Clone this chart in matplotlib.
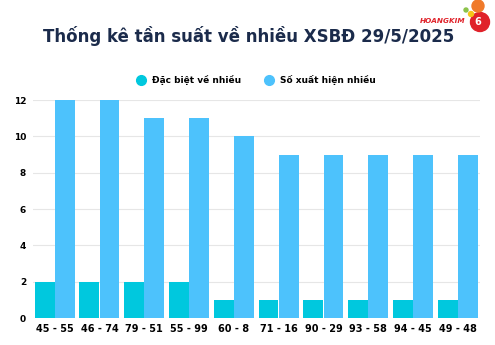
import matplotlib
matplotlib.use("Agg")
import matplotlib.pyplot as plt
from matplotlib.lines import Line2D
from matplotlib.patches import Ellipse

categories = ["45 - 55", "46 - 74", "79 - 51", "55 - 99", "60 - 8",
              "71 - 16", "90 - 29", "93 - 58", "94 - 45", "49 - 48"]
special_counts = [2, 2, 2, 2, 1, 1, 1, 1, 1, 1]
appear_counts = [12, 12, 11, 11, 10, 9, 9, 9, 9, 9]
yticks = [0, 2, 4, 6, 8, 10, 12]

title = "Thống kê tần suất về nhiều XSBĐ 29/5/2025"
label_special = "Đặc biệt về nhiều"
label_appear = "Số xuất hiện nhiều"

c_special = "#00C8DE"
c_appear = "#4DC2FC"
c_title = "#1B2B4B"

plt.rcParams["font.family"] = ["DejaVu Sans"]

W, H = 495, 345
fig = plt.figure(figsize=(W / 100, H / 100), dpi=100)
fig.patch.set_facecolor("white")
ax = fig.add_axes([0.067, 0.078, 0.903, 0.632])

x = list(range(len(categories)))
w = 0.445
ax.bar([i - 0.225 for i in x], special_counts, width=w, color=c_special, zorder=3)
ax.bar([i + 0.225 for i in x], appear_counts, width=w, color=c_appear, zorder=3)

ax.set_xlim(-0.48, 9.5)
ax.set_ylim(0, 12)
ax.set_yticks(yticks)
ax.set_yticklabels([str(v) for v in yticks], fontsize=6.5, fontweight="bold")
ax.set_xticks(x)
ax.set_xticklabels(categories, fontsize=7, fontweight="bold")
ax.tick_params(axis="y", length=0, pad=5)
ax.tick_params(axis="x", length=0, pad=4)
ax.grid(axis="y", color="#E6E6E6", linewidth=0.8, zorder=0)
for s in ax.spines.values():
    s.set_visible(False)

fig.text(0.502, 1 - 36 / H, title, ha="center", va="center", fontsize=12,
         fontweight="bold", color=c_title)

handles = [Line2D([0], [0], marker="o", linestyle="", markersize=7,
                  markerfacecolor=c_special, markeredgecolor=c_special),
           Line2D([0], [0], marker="o", linestyle="", markersize=7,
                  markerfacecolor=c_appear, markeredgecolor=c_appear)]
leg = fig.legend(handles, [label_special, label_appear], loc="center",
                 bbox_to_anchor=(0.513, 1 - 80 / H), ncol=2, frameon=False,
                 prop={"size": 6.5, "weight": "bold"}, handletextpad=0.3,
                 columnspacing=2.0)


def dot(cx, cy, r, color):
    """Round dot given in pixel units from the top-left corner."""
    fig.patches.append(Ellipse((cx / W, 1 - cy / H), 2 * r / W, 2 * r / H,
                               transform=fig.transFigure, color=color))


# brand mark in the top-right corner
fig.text(443 / W, 1 - 21 / H, "HOANGKIM", ha="center", va="center",
         fontsize=5.2, fontweight="bold", fontstyle="italic", color="#E0222A")
dot(480, 22, 9.5, "#E0222A")
fig.text(478 / W, 1 - 22 / H, "6", ha="center", va="center", fontsize=7,
         fontweight="bold", color="white")
dot(478, 6, 6, "#F07A2A")
dot(471, 14, 2.5, "#F5C518")
dot(466, 10, 2, "#8BC34A")

fig.savefig("out.png", dpi=100, facecolor="white")
